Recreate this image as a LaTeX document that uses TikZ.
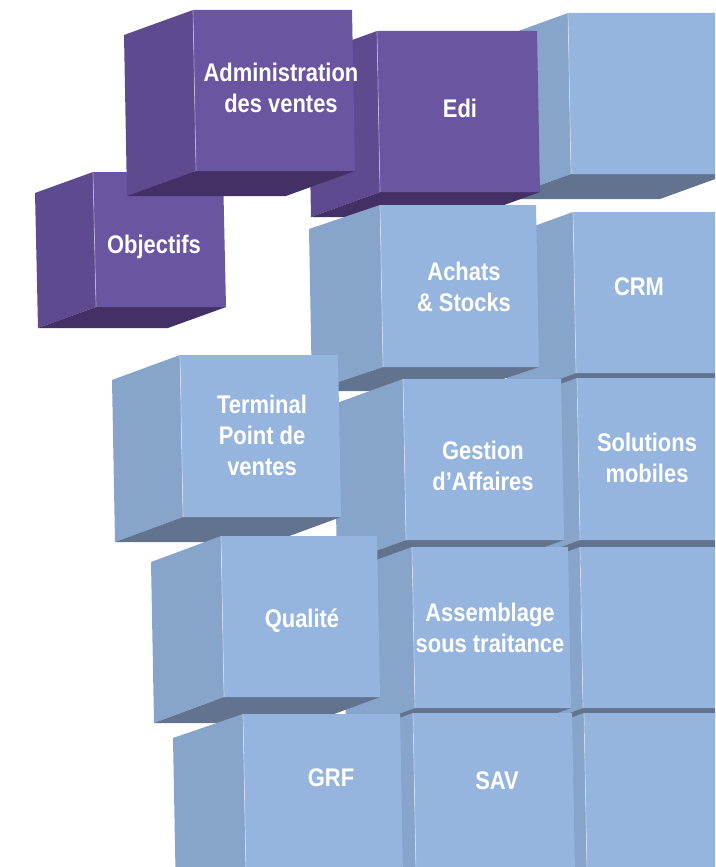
\documentclass[tikz,border=0pt]{standalone}
\usepackage{fontspec}
\setmainfont{Liberation Sans}[FakeStretch=0.86]
\usepackage{xcolor}
\usepackage{tikz}

\definecolor{mauveface}{HTML}{6A56A0}
\definecolor{mauvecote}{HTML}{5E4A8F}
\definecolor{mauvedessous}{HTML}{433066}
\definecolor{bleuface}{HTML}{96B5DE}
\definecolor{bleucote}{HTML}{87A4CB}
\definecolor{bleudessous}{HTML}{62738F}

\begin{document}
\begin{tikzpicture}[x=1pt, y=-1pt,
    etiquette/.style={text=white, align=center, inner sep=0pt,
        font=\bfseries\fontsize{25.5}{31}\selectfont}]
    \useasboundingbox (0,0) rectangle (715,867);
    \clip (0,0) rectangle (715,867);

    % 1. Les cubes (de haut en bas, de droite a gauche)
    \foreach \x/\y/\w/\h/\dx/\dy/\col in {
        93/172/130/135/-58/21/mauve,
        568/13/158/161/-69/25/bleu, 377/31/160/161/-69/25/mauve,
        193/10/159/161/-69/25/mauve,
        573/212/160/161/-69/25/bleu, 380/205/156/162/-71/24/bleu,
        577/378/160/162/-69/25/bleu, 403/379/158/161/-69/25/bleu,
        180/355/158/162/-68/25/bleu,
        580/547/160/161/-69/25/bleu, 412/547/156/161/-69/25/bleu,
        221/536/156/161/-70/26/bleu,
        584/713/160/161/-69/25/bleu, 413/713/159/161/-69/25/bleu,
        243/714/157/161/-70/24/bleu} {
        \fill[fill=\col cote] (\x,\y) -- (\x+3,\y+\h) -- (\x+3+\dx,\y+\h+\dy)
            -- (\x+\dx,\y+\dy) -- cycle;
        \fill[fill=\col dessous] (\x+3,\y+\h) -- (\x+3+\w,\y+\h)
            -- (\x+3+\w+\dx,\y+\h+\dy) -- (\x+3+\dx,\y+\h+\dy) -- cycle;
        \fill[fill=\col face] (\x,\y) -- (\x+\w,\y) -- (\x+\w+3,\y+\h)
            -- (\x+3,\y+\h) -- cycle;
        \draw[white, opacity=0.45, line width=0.7pt] (\x,\y) -- (\x+3,\y+\h);
    }

    % 2. Les textes
    \node[etiquette] (admin) at (281,88) {Administration\\des ventes};
    \node[etiquette] (edi) at (460,108) {Edi};
    \node[etiquette] (objectifs) at (154,247) {Objectifs};
    \node[etiquette] (achats) at (464,287) {Achats\\\& Stocks};
    \node[etiquette] (crm) at (639,287) {CRM};
    \node[etiquette] (terminal) at (262,435) {Terminal\\Point de\\ventes};
    \node[etiquette] (gestion) at (483,466) {Gestion\\d’Affaires};
    \node[etiquette] (mobiles) at (647,458) {Solutions\\mobiles};
    \node[etiquette] (qualite) at (302,621) {Qualité};
    \node[etiquette] (assemblage) at (490,628) {Assemblage\\sous traitance};
    \node[etiquette] (grf) at (331,778) {GRF};
    \node[etiquette] (sav) at (497,781) {SAV};
\end{tikzpicture}
\end{document}
